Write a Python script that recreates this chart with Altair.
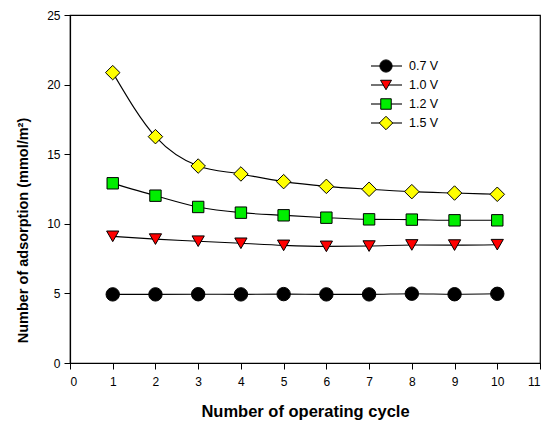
import altair as alt
import pandas as pd

cycles = [1, 2, 3, 4, 5, 6, 7, 8, 9, 10]
v07 = [4.93, 4.93, 4.94, 4.93, 4.95, 4.93, 4.93, 4.98, 4.94, 4.97]
v10 = [9.1, 8.9, 8.75, 8.6, 8.45, 8.38, 8.4, 8.48, 8.47, 8.5]
v12 = [12.91, 12.02, 11.21, 10.80, 10.61, 10.44, 10.32, 10.30, 10.25, 10.25]
v15 = [20.86, 16.26, 14.15, 13.58, 13.03, 12.69, 12.48, 12.31, 12.21, 12.12]

series_names = ["0.7 V", "1.0 V", "1.2 V", "1.5 V"]
series_vals = [v07, v10, v12, v15]
shapes = ["circle", "triangle-down", "square", "diamond"]
fills = ["#000000", "#ff0000", "#00ee00", "#ffff00"]
sizes = [180, 150, 130, 210]

rows = []
for name, vals in zip(series_names, series_vals):
    for c, v in zip(cycles, vals):
        rows.append({"cycle": c, "value": v, "series": name})
df = pd.DataFrame(rows)

W, H = 470, 348
FONT = "Liberation Sans"

xs = alt.Scale(domain=[0, 11], nice=False)
ys = alt.Scale(domain=[0, 25], nice=False)

layers = []
for i, name in enumerate(series_names):
    sub = df[df.series == name]
    base = alt.Chart(sub)
    line = base.mark_line(color="black", strokeWidth=1.1, interpolate="monotone").encode(
        x=alt.X("cycle:Q", scale=xs,
                axis=alt.Axis(title="Number of operating cycle", values=list(range(0, 12)),
                              titleFontSize=16.5, labelPadding=7, titlePadding=16)),
        y=alt.Y("value:Q", scale=ys,
                axis=alt.Axis(title="Number of adsorption (mmol/m²)", values=[0, 5, 10, 15, 20, 25],
                              titleFontSize=14.5, labelPadding=4, titlePadding=16, titleY=215)),
    )
    pts = base.mark_point(shape=shapes[i], filled=True, fill=fills[i], stroke="black",
                          strokeWidth=1, size=sizes[i], opacity=1).encode(
        x="cycle:Q", y="value:Q")
    layers += [line, pts]

# manual legend (pixel positions inside plot area)
leg_x0, leg_x1, leg_sym, leg_txt = 301, 332, 316, 339
leg_ys = [51, 70, 89, 108]
leg_sizes = [150, 120, 110, 180]
for i, name in enumerate(series_names):
    yy = leg_ys[i]
    one = alt.Chart(pd.DataFrame({"label": [name]}))
    layers.append(one.mark_rule(color="black", strokeWidth=1.1).encode(
        x=alt.value(leg_x0), x2=alt.value(leg_x1), y=alt.value(yy)))
    layers.append(one.mark_point(shape=shapes[i], filled=True, fill=fills[i], stroke="black",
                                 strokeWidth=1, size=leg_sizes[i], opacity=1).encode(
        x=alt.value(leg_sym), y=alt.value(yy)))
    layers.append(one.mark_text(align="left", baseline="middle", font=FONT, fontSize=12.5,
                                color="black").encode(
        x=alt.value(leg_txt), y=alt.value(yy), text="label:N"))

chart = alt.layer(*layers).properties(
    width=W, height=H,
    padding={"left": 70, "top": 15, "right": 16, "bottom": 60},
    autosize=alt.AutoSizeParams(type="none"),
).configure_view(
    stroke="black", strokeWidth=1.2
).configure_axis(
    grid=False, domain=True, domainColor="black", domainWidth=1.2,
    tickColor="black", tickSize=6, tickWidth=1,
    labelFont=FONT, labelFontSize=12, labelColor="black",
    titleFont=FONT, titleFontWeight="bold", titleColor="black",
)

chart.save("out.html", embed_options={"renderer": "svg", "actions": False})
